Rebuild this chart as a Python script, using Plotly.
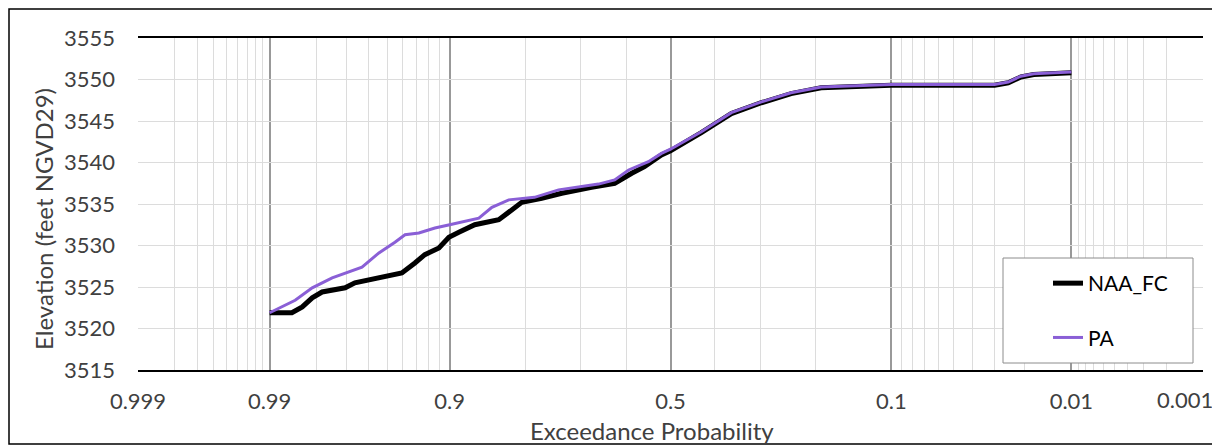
from statistics import NormalDist
import plotly.graph_objects as go

# ---- data (exceedance probability, elevation ft) ----
naa_prob = [0.99, 0.986, 0.9837, 0.9812, 0.9784, 0.9705, 0.9665, 0.9547, 0.9405,
            0.931, 0.923, 0.9105, 0.9008, 0.8903, 0.872, 0.8405, 0.8215, 0.806,
            0.7726, 0.736, 0.6765, 0.627, 0.589, 0.56, 0.521, 0.50, 0.429, 0.362,
            0.299, 0.242, 0.191, 0.138, 0.10, 0.03, 0.025, 0.021, 0.0175, 0.01]
naa_elev = [3521.9, 3521.9, 3522.6, 3523.7, 3524.4, 3524.9, 3525.5, 3526.1, 3526.7,
            3527.9, 3528.9, 3529.7, 3531.0, 3531.6, 3532.5, 3533.1, 3534.3, 3535.2,
            3535.7, 3536.3, 3537.0, 3537.5, 3538.7, 3539.5, 3540.9, 3541.4, 3543.6, 3545.9,
            3547.2, 3548.3, 3549.0, 3549.2, 3549.3, 3549.3, 3549.6, 3550.3, 3550.6, 3550.8]

pa_prob = [0.99, 0.9853, 0.9812, 0.9752, 0.9633, 0.9547, 0.9451, 0.9383, 0.9279,
           0.9142, 0.90, 0.887, 0.867, 0.85, 0.826, 0.785, 0.742, 0.662, 0.627,
           0.596, 0.551, 0.521, 0.50, 0.429, 0.362, 0.299, 0.242, 0.191, 0.138,
           0.10, 0.03, 0.025, 0.021, 0.0175, 0.01]
pa_elev = [3521.9, 3523.4, 3524.9, 3526.1, 3527.4, 3529.1, 3530.4, 3531.3, 3531.5,
           3532.1, 3532.5, 3532.8, 3533.3, 3534.6, 3535.5, 3535.8, 3536.7, 3537.4, 3537.9,
           3539.1, 3540.1, 3541.1, 3541.6, 3543.7, 3546.0, 3547.3, 3548.4, 3549.1, 3549.3,
           3549.4, 3549.4, 3549.7, 3550.4, 3550.7, 3550.9]

major_ticks = [0.999, 0.99, 0.9, 0.5, 0.1, 0.01, 0.001]
major_labels = ["0.999", "0.99", "0.9", "0.5", "0.1", "0.01", "0.001"]
minor_ticks = ([round(0.991 + 0.001 * i, 3) for i in range(8)] +
               [round(0.91 + 0.01 * i, 2) for i in range(9)] +
               [0.8, 0.7, 0.6, 0.4, 0.3, 0.2] +
               [round(0.02 + 0.01 * i, 2) for i in range(8)] +
               [round(0.002 + 0.001 * i, 3) for i in range(8)])

nd = NormalDist()


def zpos(p):
    # normal-probability scale position for an exceedance probability
    return nd.inv_cdf(1 - p)


FONT = "Lato"
TXT = "#404040"
FS = 22

# the last label sits pulled in from the chart edge (as in the reference):
# it is drawn as a separate text so it is not clipped
tick_text = list(major_labels[:-1]) + [""]

fig = go.Figure()
fig.add_trace(go.Scatter(
    x=[zpos(p) for p in naa_prob], y=naa_elev, mode="lines", name="NAA_FC",
    line=dict(color="black", width=5), legendgroup="a"))
fig.add_trace(go.Scatter(
    x=[zpos(p) for p in pa_prob], y=pa_elev, mode="lines", name="PA",
    line=dict(color="#8A5FD6", width=3), legendgroup="b"))

# page has an 8px body margin: work in page pixels and shift
OFF = 8
W, H = 1220 - OFF, 446 - OFF
L, R, T, B = 138 - OFF, 1203 - OFF, 38 - OFF, 370 - OFF
pw, ph = R - L, B - T


def fx(px):
    return (px - OFF - L) / pw


def fy(py):
    return (B - (py - OFF)) / ph


fig.update_layout(
    width=W, height=H,
    margin=dict(l=L, r=W - R, t=T, b=H - B, autoexpand=False),
    paper_bgcolor="white", plot_bgcolor="white",
    font=dict(family=FONT, size=FS, color=TXT),
    showlegend=True,
    legend=dict(x=fx(1048), y=fy(263), xanchor="left", yanchor="top",
                bgcolor="rgba(0,0,0,0)", borderwidth=0,
                font=dict(family=FONT, size=21, color="black"),
                tracegroupgap=24, itemwidth=30),
    shapes=[
        dict(type="rect", xref="paper", yref="paper",
             x0=fx(1003), x1=fx(1193), y0=fy(363), y1=fy(258),
             line=dict(color="#8C8C8C", width=1), fillcolor="white", layer="above"),
        dict(type="rect", xref="paper", yref="paper",
             x0=fx(9), x1=fx(1217), y0=fy(444), y1=fy(9),
             line=dict(color="black", width=1.5), fillcolor="rgba(0,0,0,0)", layer="above"),
    ],
    annotations=[
        dict(text=major_labels[-1], xref="paper", yref="paper",
             x=fx(1185), y=fy(399), xanchor="center", yanchor="middle",
             showarrow=False, font=dict(family=FONT, size=FS, color=TXT)),
        dict(text="Exceedance Probability", xref="paper", yref="paper",
             x=fx(652), y=fy(430), xanchor="center", yanchor="middle",
             showarrow=False, font=dict(family=FONT, size=24, color=TXT)),
        dict(text="Elevation (feet NGVD29)", xref="paper", yref="paper",
             x=fx(43), y=fy(219), xanchor="center", yanchor="middle", textangle=-90,
             showarrow=False, font=dict(family=FONT, size=24, color=TXT)),
    ],
)

eps = 1e-6
fig.update_xaxes(
    range=[zpos(0.999) - eps, zpos(0.001) + eps],
    tickmode="array", tickvals=[zpos(p) for p in major_ticks], ticktext=tick_text,
    showgrid=True, gridcolor="#999999", gridwidth=1.5,
    minor=dict(tickmode="array", tickvals=[zpos(p) for p in minor_ticks],
               showgrid=True, gridcolor="#DCDCDC", gridwidth=1),
    showline=True, linecolor="black", linewidth=2, mirror=True,
    ticks="", ticklabelstandoff=11, zeroline=False, automargin=False,
    ticklabeloverflow="allow",
    tickfont=dict(family=FONT, size=FS, color=TXT),
)
fig.update_yaxes(
    range=[3515, 3555], tickmode="linear", tick0=3515, dtick=5,
    showgrid=True, gridcolor="#DCDCDC", gridwidth=1,
    showline=False, zeroline=False, automargin=False,
    ticks="", ticklabelstandoff=22,
    tickfont=dict(family=FONT, size=FS, color=TXT),
)

fig.write_html("out.html")
